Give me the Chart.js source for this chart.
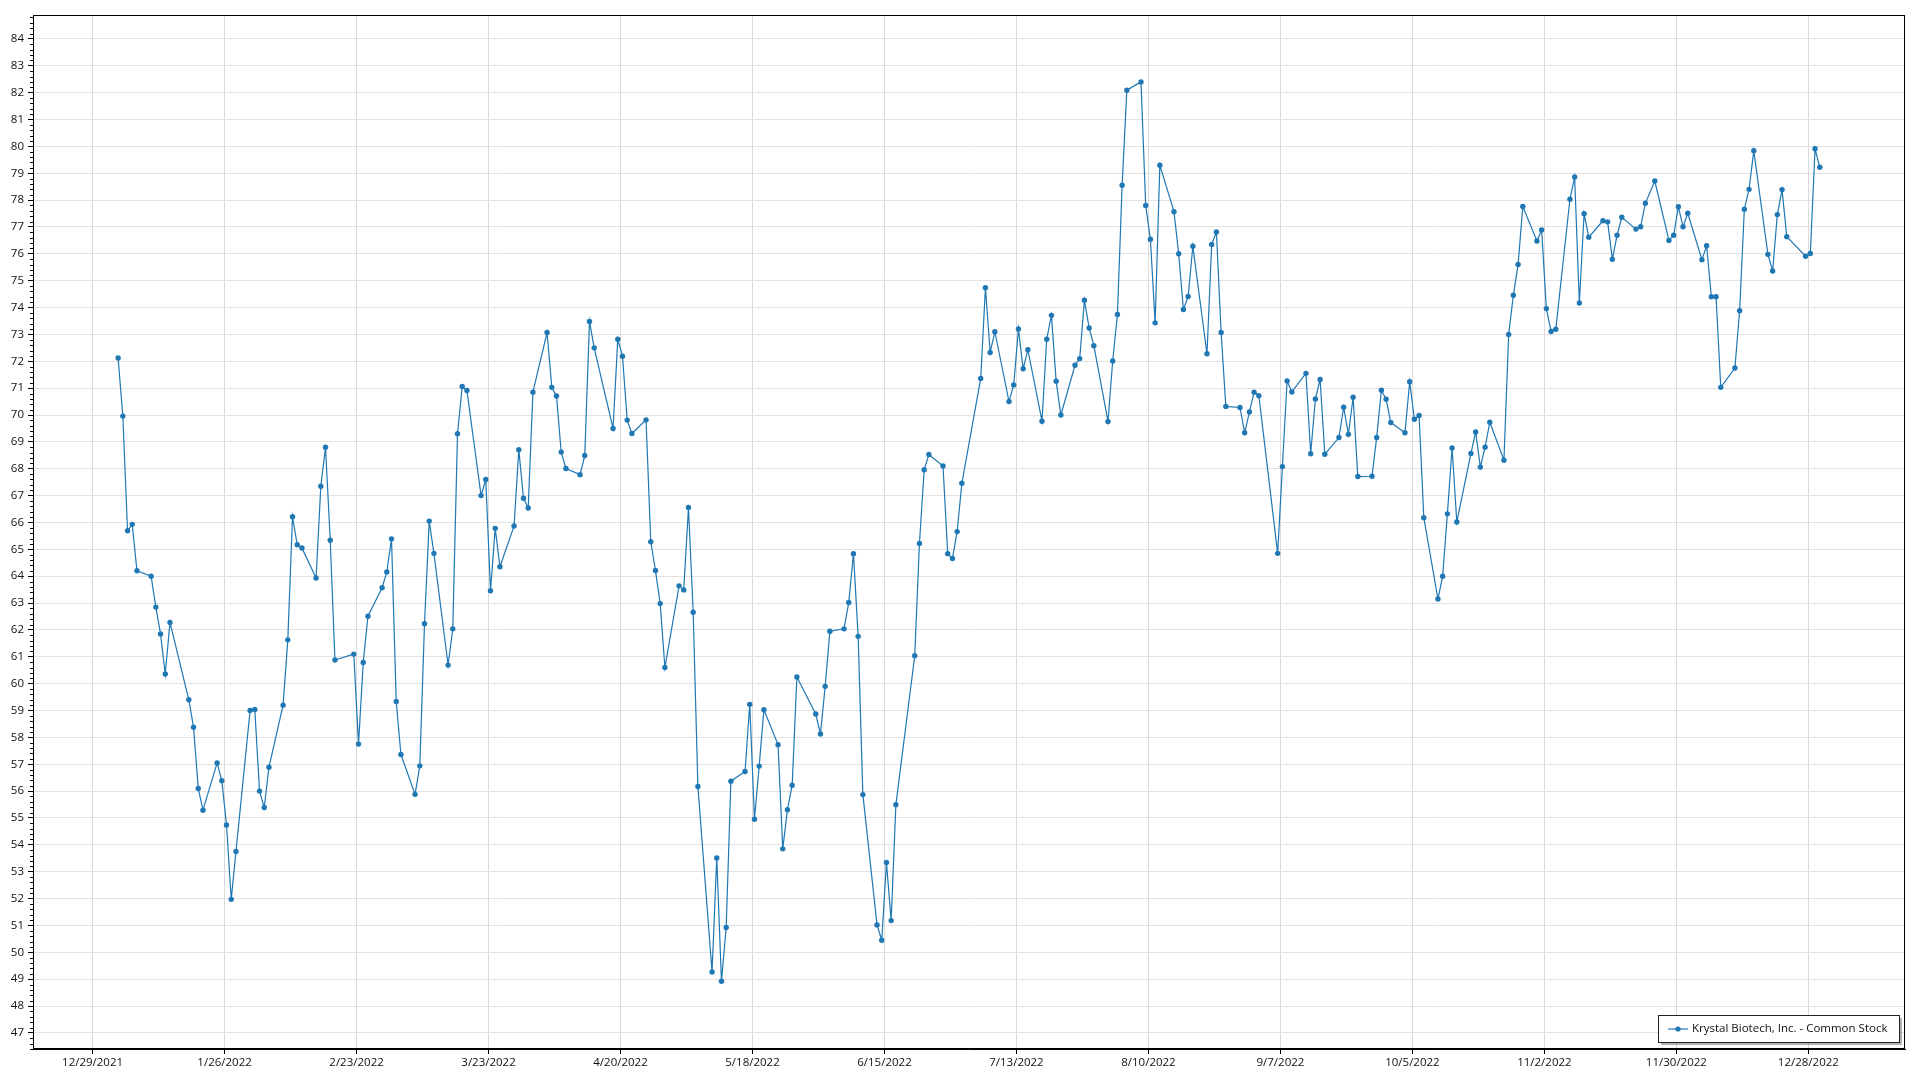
<!DOCTYPE html>
<html>
<head>
<meta charset="utf-8">
<script src="https://cdn.jsdelivr.net/npm/chart.js@4.4.1/dist/chart.umd.min.js"></script>
<style>
  html, body { margin: 0; padding: 0; background: #fff; }
</style>
</head>
<body>
<canvas id="myChart" width="1920" height="1080"></canvas>
<script>
const seriesLabel = "Krystal Biotech, Inc. - Common Stock";

// trading days of 2022 (month/day)
const tradeDates = [
  "1/3","1/4","1/5","1/6","1/7","1/10","1/11","1/12","1/13","1/14","1/18","1/19","1/20","1/21","1/24","1/25","1/26","1/27","1/28","1/31",
  "2/1","2/2","2/3","2/4","2/7","2/8","2/9","2/10","2/11","2/14","2/15","2/16","2/17","2/18","2/22","2/23","2/24","2/25","2/28",
  "3/1","3/2","3/3","3/4","3/7","3/8","3/9","3/10","3/11","3/14","3/15","3/16","3/17","3/18","3/21","3/22","3/23","3/24","3/25","3/28","3/29","3/30","3/31",
  "4/1","4/4","4/5","4/6","4/7","4/8","4/11","4/12","4/13","4/14","4/18","4/19","4/20","4/21","4/22","4/25","4/26","4/27","4/28","4/29",
  "5/2","5/3","5/4","5/5","5/6","5/9","5/10","5/11","5/12","5/13","5/16","5/17","5/18","5/19","5/20","5/23","5/24","5/25","5/26","5/27","5/31",
  "6/1","6/2","6/3","6/6","6/7","6/8","6/9","6/10","6/13","6/14","6/15","6/16","6/17","6/21","6/22","6/23","6/24","6/27","6/28","6/29","6/30",
  "7/1","7/5","7/6","7/7","7/8","7/11","7/12","7/13","7/14","7/15","7/18","7/19","7/20","7/21","7/22","7/25","7/26","7/27","7/28","7/29",
  "8/1","8/2","8/3","8/4","8/5","8/8","8/9","8/10","8/11","8/12","8/15","8/16","8/17","8/18","8/19","8/22","8/23","8/24","8/25","8/26","8/29","8/30","8/31",
  "9/1","9/2","9/6","9/7","9/8","9/9","9/12","9/13","9/14","9/15","9/16","9/19","9/20","9/21","9/22","9/23","9/26","9/27","9/28","9/29","9/30",
  "10/3","10/4","10/5","10/6","10/7","10/10","10/11","10/12","10/13","10/14","10/17","10/18","10/19","10/20","10/21","10/24","10/25","10/26","10/27","10/28","10/31",
  "11/1","11/2","11/3","11/4","11/7","11/8","11/9","11/10","11/11","11/14","11/15","11/16","11/17","11/18","11/21","11/22","11/23","11/25","11/28","11/29","11/30",
  "12/1","12/2","12/5","12/6","12/7","12/8","12/9","12/12","12/13","12/14","12/15","12/16","12/19","12/20","12/21","12/22","12/23","12/27","12/28","12/29","12/30"
];

const closePrices = [
  72.12,69.96,65.69,65.93,64.20,64.00,62.85,61.85,60.36,62.28,59.40,58.38,56.10,55.29,57.05,56.39,54.74,51.97,53.75,59.00,
  59.04,56.00,55.39,56.89,59.20,61.63,66.21,65.17,65.05,63.93,67.35,68.80,65.34,60.88,61.10,57.75,60.79,62.51,63.57,
  64.16,65.39,59.34,57.36,55.88,56.94,62.23,66.05,64.85,60.69,62.04,69.30,71.06,70.91,67.00,67.60,63.46,65.78,64.35,65.87,68.71,66.90,66.54,
  70.85,73.07,71.03,70.71,68.62,68.01,67.78,68.49,73.48,72.50,69.50,72.82,72.19,69.81,69.31,69.82,65.28,64.21,62.98,60.60,
  63.64,63.49,66.56,62.66,56.17,49.27,53.51,48.92,50.92,56.37,56.73,59.23,54.95,56.93,59.03,57.73,53.85,55.31,56.22,60.25,58.87,
  58.13,59.90,61.95,62.04,63.02,64.84,61.76,55.87,51.02,50.45,53.34,51.18,55.49,61.04,65.22,67.96,68.53,68.10,64.84,64.66,65.66,
  67.46,71.36,74.74,72.33,73.10,70.50,71.12,73.20,71.72,72.43,69.77,72.82,73.71,71.26,70.00,71.85,72.10,74.27,73.24,72.58,
  69.76,72.01,73.74,78.55,82.09,82.40,77.80,76.54,73.43,79.30,77.57,76.00,73.93,74.41,76.28,72.28,76.35,76.81,73.07,70.32,70.28,69.34,70.11,
  70.85,70.72,64.85,68.08,71.27,70.86,71.55,68.56,70.60,71.32,68.54,69.16,70.29,69.28,70.66,67.71,67.72,69.16,70.92,70.59,69.72,
  69.34,71.24,69.84,69.98,66.18,63.15,64.00,66.32,68.77,66.02,68.57,69.37,68.06,68.80,69.73,68.32,73.00,74.46,75.60,77.76,76.48,
  76.89,73.96,73.11,73.19,78.03,78.86,74.17,77.49,76.62,77.23,77.19,75.80,76.69,77.36,76.92,77.01,77.88,78.71,76.50,76.69,77.75,
  77.01,77.51,75.78,76.30,74.40,74.40,71.03,71.75,73.88,77.66,78.40,79.84,75.98,75.36,77.46,78.39,76.64,75.91,76.01,79.91,79.22
];

const xTickLabels = ["12/29/2021","1/26/2022","2/23/2022","3/23/2022","4/20/2022","5/18/2022","6/15/2022",
  "7/13/2022","8/10/2022","9/7/2022","10/5/2022","11/2/2022","11/30/2022","12/28/2022"];

const lineColor = "#1f77b4";
const tickFont = { family: "'Open Sans', 'Noto Sans', sans-serif", size: 11.5 };

// x is days counted from 12/29/2021; prices are stamped at ~10:00 of their day
const baseDay = Date.UTC(2021, 11, 29);
const stampHour = 10;
function dayOffset(m, d, y) {
    return (Date.UTC(y, m - 1, d) - baseDay) / 86400000;
}

const points = tradeDates.map((s, i) => {
    const [m, d] = s.split("/").map(Number);
    return { x: dayOffset(m, d, 2022) + stampHour / 24, y: closePrices[i] };
});

const tickDays = xTickLabels.map(s => {
    const [m, d, y] = s.split("/").map(Number);
    return dayOffset(m, d, y);
});

// frame, minor ticks and the boxed legend in the corner
const framePlugin = {
    id: "frame",
    beforeDraw(chart) {
        const ctx = chart.ctx;
        ctx.save();
        ctx.fillStyle = "#fff";
        ctx.fillRect(0, 0, chart.width, chart.height);
        ctx.restore();
    },
    afterDraw(chart) {
        const { ctx, chartArea: a, scales } = chart;
        ctx.save();
        ctx.strokeStyle = "#000";
        ctx.lineWidth = 1;
        ctx.strokeRect(Math.round(a.left) + 0.5, Math.round(a.top) + 0.5,
            Math.round(a.right - a.left) - 1, Math.round(a.bottom - a.top) - 1);

        const y = scales.y;
        ctx.beginPath();
        for (let i = Math.ceil(y.min * 5); i <= Math.floor(y.max * 5); i++) {
            if (i % 5 === 0) continue;
            const py = Math.round(y.getPixelForValue(i / 5)) + 0.5;
            ctx.moveTo(a.left - 3, py);
            ctx.lineTo(a.left, py);
        }
        ctx.stroke();

        // legend
        const label = chart.data.datasets[0].label;
        ctx.font = "11.5px " + tickFont.family;
        const tw = ctx.measureText(label).width;
        const boxW = Math.round(tw + 46), boxH = 27;
        const bx = Math.round(a.right - 6 - boxW), by = Math.round(a.bottom - 7 - boxH);
        ctx.fillStyle = "rgba(0,0,0,0.3)";
        ctx.fillRect(bx + 3, by + 3, boxW, boxH);
        ctx.fillStyle = "#fff";
        ctx.fillRect(bx, by, boxW, boxH);
        ctx.strokeStyle = "#222";
        ctx.strokeRect(bx + 0.5, by + 0.5, boxW, boxH);
        const my = by + boxH / 2 + 0.5;
        ctx.strokeStyle = lineColor;
        ctx.lineWidth = 1.2;
        ctx.beginPath();
        ctx.moveTo(bx + 10, my);
        ctx.lineTo(bx + 30, my);
        ctx.stroke();
        ctx.fillStyle = lineColor;
        ctx.beginPath();
        ctx.arc(bx + 20, my, 2.6, 0, Math.PI * 2);
        ctx.fill();
        ctx.fillStyle = "#111";
        ctx.textBaseline = "middle";
        ctx.fillText(label, bx + 34, my);
        ctx.restore();
    }
};

const ctx = document.getElementById("myChart").getContext("2d");
new Chart(ctx, {
    type: "line",
    data: {
        datasets: [{
            label: seriesLabel,
            data: points,
            borderColor: lineColor,
            backgroundColor: lineColor,
            borderWidth: 1.2,
            pointRadius: 2.7,
            pointBorderWidth: 0,
            pointHoverRadius: 3,
            tension: 0,
            fill: false
        }]
    },
    options: {
        responsive: false,
        animation: false,
        layout: { padding: { top: 15, right: 15, left: 0, bottom: 0 } },
        plugins: {
            legend: { display: false },
            tooltip: { enabled: false },
            title: { display: false }
        },
        scales: {
            x: {
                type: "linear",
                min: -12.64,
                max: 384.5,
                afterBuildTicks: axis => { axis.ticks = tickDays.map(v => ({ value: v })); },
                afterFit: axis => { axis.height = 31; },
                grid: { color: "#dadada", tickColor: "#000", tickLength: 5 },
                border: { color: "#000", width: 1 },
                ticks: {
                    autoSkip: false,
                    maxRotation: 0,
                    padding: 2,
                    color: "#111",
                    font: tickFont,
                    callback: v => xTickLabels[tickDays.indexOf(v)]
                }
            },
            y: {
                min: 46.4,
                max: 84.89,
                afterFit: axis => { axis.width = 33; },
                grid: { color: "#e2e2e2", tickColor: "#000", tickLength: 5 },
                border: { color: "#000", width: 1 },
                ticks: {
                    stepSize: 1,
                    includeBounds: false,
                    padding: 4,
                    color: "#111",
                    font: tickFont
                }
            }
        }
    },
    plugins: [framePlugin]
});
</script>
</body>
</html>
